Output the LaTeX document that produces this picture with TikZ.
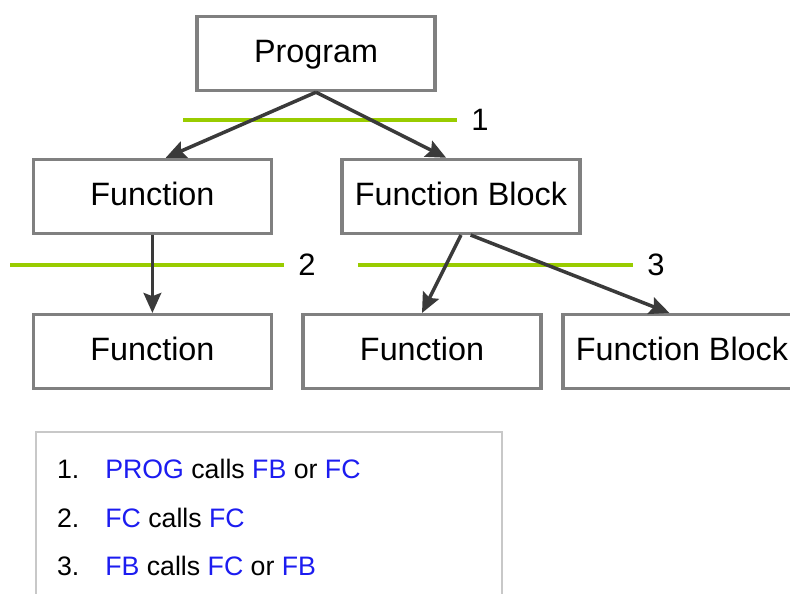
\documentclass[tikz,border=0pt]{standalone}
\usepackage{fontspec}
\setmainfont{Liberation Sans}
\usepackage{tikz}
\usetikzlibrary{arrows.meta, positioning}

\definecolor{boxgray}{RGB}{128,128,128}
\definecolor{arrgray}{RGB}{58,58,58}
\definecolor{sepgreen}{RGB}{153,204,0}
\definecolor{legblue}{RGB}{28,28,240}
\definecolor{leggray}{RGB}{200,200,200}
\newcommand{\hl}[1]{\textcolor{legblue}{#1}}

\begin{document}
\begin{tikzpicture}[
  box/.style={draw=boxgray, line width=2.3pt, minimum width=5.95cm, minimum height=1.85cm,
              inner sep=0pt, text height=15pt, text depth=2.2pt,
              font=\fontsize{23}{27}\selectfont},
  arr/.style={-{Stealth[length=5mm, width=4.4mm, inset=0.8mm]}, line width=2.5pt, draw=arrgray},
  sep/.style={draw=sepgreen, line width=2.3pt},
  num/.style={inner sep=0pt, font=\fontsize{22}{26}\selectfont},
  item/.style={inner sep=0pt, anchor=base west, font=\fontsize{19}{23}\selectfont}
]
  \useasboundingbox (0,0) rectangle (19.75,-14.825);

  \node[box] (prog) at (7.9,-1.34)   {Program};
  \node[box] (fc1)  at (3.81,-4.91)  {Function};
  \node[box] (fb1)  at (11.525,-4.91){Function Block};
  \node[box] (fc2)  at (3.81,-8.79)  {Function};
  \node[box] (fc3)  at (10.55,-8.79) {Function};
  \node[box] (fb2)  at (17.05,-8.79) {Function Block};

  % separators
  \coordinate (s1a) at (4.575,-3);   \coordinate (s1b) at (11.425,-3);
  \coordinate (s2a) at (0.25,-6.625); \coordinate (s2b) at (7.1,-6.625);
  \coordinate (s3a) at (8.95,-6.625); \coordinate (s3b) at (15.825,-6.625);
  \draw[sep] (s1a) -- (s1b) node[num, right=9pt] (n1) {1};
  \draw[sep] (s2a) -- (s2b) node[num, right=9pt] (n2) {2};
  \draw[sep] (s3a) -- (s3b) node[num, right=9pt] (n3) {3};

  \draw[arr] (prog.south) -- (fc1.71);
  \draw[arr] (prog.south) -- (fb1.111);
  \draw[arr] (fc1.south) -- (fc2.north);
  \draw[arr] (fb1.south) -- (fc3.north);
  \draw[arr] (fb1.-76) -- (fb2.108);

  % legend
  \draw[leggray, line width=1.2pt] (0.9,-15.3) -- (0.9,-10.8) -- (12.55,-10.8) -- (12.55,-15.3);
  \node[item] (k1) at (1.42,-11.95)  {1.};
  \node[item] (t1) at (2.625,-11.95) {\hl{PROG} calls \hl{FB} or \hl{FC}};
  \node[item] (k2) at (1.42,-13.175) {2.};
  \node[item] (t2) at (2.625,-13.175){\hl{FC} calls \hl{FC}};
  \node[item] (k3) at (1.42,-14.375) {3.};
  \node[item] (t3) at (2.625,-14.375){\hl{FB} calls \hl{FC} or \hl{FB}};
\end{tikzpicture}
\end{document}
